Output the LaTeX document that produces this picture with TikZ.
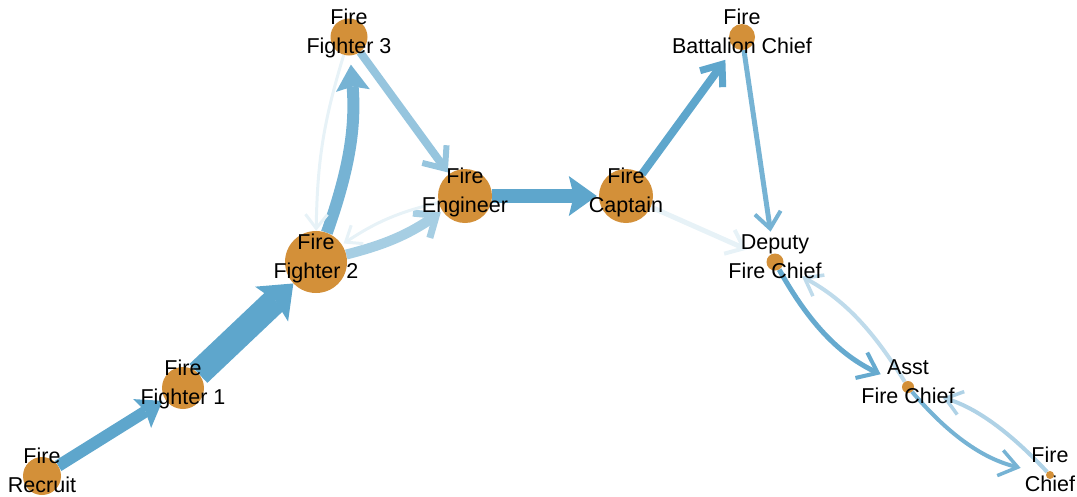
\documentclass[tikz,border=0pt]{standalone}
\usepackage{fontspec}
\setmainfont{Liberation Sans}
\usetikzlibrary{arrows.meta}
\pgfdeclarelayer{background}
\pgfsetlayers{background,main}
\definecolor{eblue}{RGB}{94,166,204}
\definecolor{nodeor}{RGB}{211,144,57}
\tikzset{
  circ/.style={circle, fill=nodeor, draw=none, inner sep=0pt, minimum size=#1},
  lab/.style={font=\fontsize{21.5}{21.5}\selectfont, anchor=base, inner sep=0pt, text=black},
  eb/.style={draw=eblue!#1!white, fill=none},
  heavy/.style n args={3}{-{Stealth[length=#1,width=#2,inset=#3,line width=0pt]}},
  barb/.style n args={3}{-{Straight Barb[length=#1,width=#2,line width=#3]}},
}
\newcommand\twolab[4]{\path (#2) ++(0,-13) node[lab] (#1a) {#3};
  \path (#2) ++(0,16) node[lab] (#1b) {#4};}
\begin{document}
\begin{tikzpicture}[x=1pt,y=-1pt]
\useasboundingbox (0,0) rectangle (1077,496);
% nodes
\node[circ=38pt] (rec) at (42,476) {};
\node[circ=42pt] (ff1) at (183,388) {};
\node[circ=62pt] (ff2) at (316,262) {};
\node[circ=37pt] (ff3) at (349,37) {};
\node[circ=54pt] (eng) at (465,196) {};
\node[circ=54pt] (cap) at (626,196) {};
\node[circ=26pt] (bat) at (742,37) {};
\node[circ=17pt] (dep) at (775,262) {};
\node[circ=12pt] (ast) at (908,387) {};
\node[circ=8pt]  (chf) at (1050,475) {};
% edges
\begin{pgfonlayer}{background}
\draw[eb=100, line width=12pt, heavy={24pt}{34pt}{4pt}, shorten >=3pt] (rec) -- (ff1);
\draw[eb=100, line width=26pt, heavy={30pt}{48pt}{5pt}] (ff1) -- (ff2);
\draw[eb=85, line width=12pt, heavy={26pt}{34pt}{4pt}, shorten >=9pt] (ff2) to[bend right=12] (ff3);
\draw[eb=15, line width=3pt, barb={14pt}{22pt}{3pt}] (ff3) to[bend right=8] (ff2);
\draw[eb=65, line width=8pt, barb={18pt}{30pt}{6pt}, shorten >=2pt] (ff3) -- (eng);
\draw[eb=55, line width=10pt, barb={18pt}{30pt}{7pt}, shorten >=2pt] (ff2) to[bend right=10] (eng);
\draw[eb=15, line width=3pt, barb={14pt}{22pt}{3pt}, shorten >=2pt] (eng) to[bend right=10] (ff2);
\draw[eb=100, line width=14pt, heavy={28pt}{40pt}{5pt}, shorten >=2pt] (eng) -- (cap);
\draw[eb=100, line width=8pt, barb={18pt}{28pt}{7pt}, shorten >=15pt] (cap) -- (bat);
\draw[eb=15, line width=5pt, barb={16pt}{26pt}{4pt}, shorten >=22pt] (cap) -- (dep);
\draw[eb=85, line width=5pt, barb={16pt}{26pt}{4pt}, shorten >=22pt] (bat) -- (dep);
\draw[eb=95, line width=5pt, barb={18pt}{28pt}{4pt}, shorten >=24pt] (dep) to[bend right=18] (ast);
\draw[eb=40, line width=4pt, barb={16pt}{24pt}{3.5pt}, shorten >=22pt] (ast) to[bend right=15] (dep);
\draw[eb=85, line width=4pt, barb={18pt}{26pt}{3.5pt}, shorten >=26pt] (ast) to[bend right=18] (chf);
\draw[eb=50, line width=4pt, barb={16pt}{24pt}{3.5pt}, shorten >=30pt] (chf) to[bend right=15] (ast);
\end{pgfonlayer}
% labels
\twolab{lrec}{rec}{Fire}{Recruit}
\twolab{lff1}{ff1}{Fire}{Fighter 1}
\twolab{lff2}{ff2}{Fire}{Fighter 2}
\twolab{lff3}{ff3}{Fire}{Fighter 3}
\twolab{leng}{eng}{Fire}{Engineer}
\twolab{lcap}{cap}{Fire}{Captain}
\twolab{lbat}{bat}{Fire}{Battalion Chief}
\twolab{ldep}{dep}{Deputy}{Fire Chief}
\twolab{last}{ast}{Asst}{Fire Chief}
\twolab{lchf}{chf}{Fire}{Chief}
\end{tikzpicture}
\end{document}
